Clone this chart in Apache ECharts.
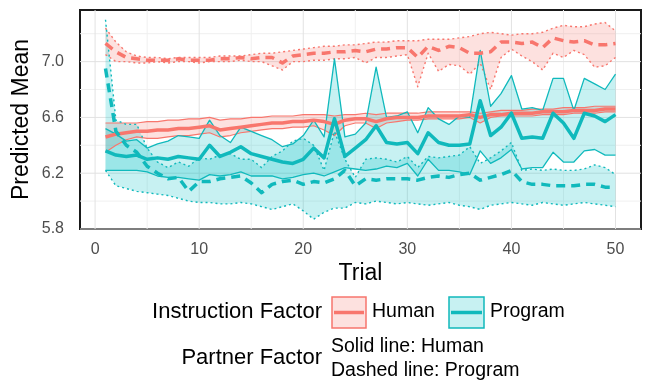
<!DOCTYPE html>
<html>
<head>
<meta charset="utf-8">
<script src="https://cdn.jsdelivr.net/npm/echarts@6/dist/echarts.min.js"></script>
<style>html,body{margin:0;padding:0;background:#fff}#c{width:645px;height:381px}</style>
</head>
<body>
<div id="c"></div>
<script>
// ---- data ----
const trials = [1,2,3,4,5,6,7,8,9,10,11,12,13,14,15,16,17,18,19,20,21,22,23,24,25,26,27,28,29,30,31,32,33,34,35,36,37,38,39,40,41,42,43,44,45,46,47,48,49,50];
const xTicks = [0,10,20,30,40,50];
const xMinor = [5,15,25,35,45];
const yTicks = [5.8,6.2,6.6,7.0];
const yMinor = [6.0,6.4,6.8,7.2];

// Instruction: Human, Partner: Human (solid red)
const hhMean = [6.46,6.48,6.49,6.50,6.50,6.51,6.51,6.52,6.52,6.53,6.54,6.51,6.52,6.53,6.54,6.55,6.56,6.56,6.57,6.57,6.58,6.57,6.55,6.58,6.59,6.59,6.57,6.59,6.60,6.60,6.60,6.61,6.61,6.61,6.61,6.62,6.60,6.62,6.62,6.63,6.63,6.63,6.64,6.64,6.64,6.65,6.65,6.65,6.66,6.66];
const hhHi   = [6.56,6.56,6.56,6.56,6.57,6.57,6.58,6.58,6.59,6.59,6.60,6.58,6.59,6.59,6.60,6.60,6.61,6.61,6.61,6.62,6.62,6.62,6.61,6.62,6.62,6.63,6.62,6.63,6.63,6.63,6.63,6.64,6.64,6.64,6.64,6.64,6.63,6.64,6.65,6.65,6.65,6.66,6.66,6.66,6.67,6.67,6.67,6.68,6.68,6.68];
const hhLo   = [6.35,6.40,6.44,6.46,6.45,6.45,6.46,6.47,6.47,6.48,6.49,6.46,6.47,6.49,6.50,6.51,6.52,6.52,6.53,6.53,6.54,6.51,6.47,6.54,6.56,6.56,6.52,6.56,6.57,6.58,6.58,6.59,6.59,6.59,6.59,6.60,6.56,6.60,6.61,6.61,6.61,6.61,6.62,6.62,6.62,6.63,6.63,6.63,6.64,6.64];

// Instruction: Human, Partner: Program (dashed red)
const hpMean = [7.13,7.07,7.03,7.02,7.01,7.01,7.01,7.02,7.01,7.01,7.01,7.02,7.02,7.03,7.02,7.03,7.03,6.99,7.04,7.05,7.06,7.06,7.07,7.07,7.08,7.07,7.09,7.09,7.10,7.10,7.03,7.11,7.08,7.11,7.10,7.06,7.06,7.07,7.14,7.14,7.13,7.14,7.10,7.17,7.15,7.14,7.15,7.12,7.12,7.13];
const hpHi   = [7.24,7.14,7.07,7.04,7.03,7.03,7.02,7.03,7.03,7.03,7.03,7.04,7.04,7.04,7.05,7.06,7.06,7.07,7.08,7.09,7.10,7.11,7.11,7.12,7.12,7.13,7.14,7.14,7.15,7.15,7.15,7.16,7.16,7.16,7.17,7.18,7.20,7.21,7.20,7.19,7.20,7.20,7.21,7.24,7.26,7.25,7.25,7.27,7.28,7.22];
const hpLo   = [7.05,7.00,7.00,6.99,6.99,7.00,6.99,7.00,7.00,6.99,7.00,7.00,7.00,7.01,7.00,7.00,6.97,6.94,7.00,7.00,7.01,7.01,7.02,7.02,7.03,6.99,7.03,7.03,7.04,7.05,6.82,7.06,6.93,6.98,6.97,6.91,6.99,6.80,7.03,7.09,7.04,7.00,6.94,7.06,7.03,7.08,7.05,6.96,6.97,7.03];

// Instruction: Program, Partner: Human (solid teal)
const phMean = [6.36,6.33,6.32,6.33,6.30,6.31,6.30,6.32,6.31,6.30,6.40,6.32,6.35,6.39,6.34,6.32,6.30,6.28,6.27,6.30,6.38,6.31,6.59,6.32,6.38,6.44,6.54,6.42,6.41,6.42,6.34,6.49,6.42,6.40,6.40,6.41,6.72,6.47,6.53,6.63,6.45,6.46,6.45,6.63,6.56,6.45,6.63,6.61,6.57,6.62];
const phHi   = [6.52,6.48,6.43,6.44,6.38,6.41,6.43,6.47,6.46,6.45,6.58,6.47,6.42,6.53,6.50,6.47,6.44,6.39,6.41,6.47,6.58,6.46,7.02,6.46,6.48,6.56,6.96,6.60,6.61,6.64,6.49,6.67,6.59,6.55,6.61,6.60,7.08,6.68,6.77,6.90,6.66,6.67,6.65,6.88,6.88,6.65,6.88,6.84,6.80,6.91];
const phLo   = [6.22,6.22,6.22,6.22,6.21,6.18,6.17,6.17,6.16,6.15,6.19,6.18,6.19,6.21,6.18,6.18,6.18,6.16,6.17,6.19,6.20,6.18,6.21,6.24,6.23,6.22,6.23,6.25,6.24,6.27,6.18,6.30,6.22,6.22,6.21,6.19,6.36,6.27,6.31,6.37,6.23,6.24,6.24,6.35,6.28,6.28,6.36,6.37,6.33,6.33];

// Instruction: Program, Partner: Program (dashed teal)
const ppMean = [6.95,6.50,6.40,6.35,6.25,6.20,6.16,6.17,6.07,6.14,6.14,6.16,6.17,6.18,6.13,6.06,6.12,6.14,6.15,6.12,6.14,6.13,6.16,6.22,6.11,6.16,6.15,6.16,6.16,6.16,6.15,6.17,6.18,6.17,6.19,6.20,6.15,6.17,6.19,6.22,6.14,6.12,6.12,6.11,6.11,6.11,6.12,6.12,6.10,6.10];
const ppHi   = [7.30,6.58,6.55,6.55,6.38,6.28,6.24,6.28,6.25,6.31,6.30,6.33,6.34,6.30,6.30,6.24,6.32,6.36,6.43,6.45,6.40,6.22,6.50,6.30,6.17,6.30,6.31,6.30,6.28,6.32,6.24,6.32,6.31,6.32,6.33,6.39,6.27,6.31,6.36,6.42,6.22,6.23,6.22,6.23,6.22,6.22,6.23,6.26,6.24,6.19];
const ppLo   = [6.22,6.11,6.09,6.07,6.06,6.05,6.04,6.02,6.00,5.99,5.99,5.98,5.98,5.99,5.98,5.96,5.94,5.96,5.98,5.93,5.87,5.92,5.95,5.95,5.99,5.98,6.00,5.99,5.98,5.99,5.98,5.97,5.98,5.99,5.97,5.96,5.94,5.97,5.98,5.99,5.98,5.97,5.99,5.98,5.97,5.98,5.99,5.98,5.97,5.96];

// ---- styling ----
const RED = '#F8766D', TEAL = '#10b9bc';
const RED_FILL = 'rgba(248,118,109,0.22)', TEAL_FILL = 'rgba(0,191,196,0.22)';
const FONT = '"Liberation Sans", Arial, sans-serif';
const X_MIN = -1.45, X_MAX = 52.45, Y_MIN = 5.8, Y_MAX = 7.37;

function pairs(arr){ return trials.map((t,i)=>[t, arr[i]]); }

function ribbon(lo, hi, fill){
  return {
    type:'custom', silent:true, z:2, clip:true, animation:false,
    data:[[trials[0], lo[0]]],
    renderItem:(params, api)=>{
      const pts=[];
      for(let i=0;i<trials.length;i++) pts.push(api.coord([trials[i], hi[i]]));
      for(let i=trials.length-1;i>=0;i--) pts.push(api.coord([trials[i], lo[i]]));
      return {type:'polygon', shape:{points:pts}, style:{fill:fill}};
    }
  };
}
function line(arr, color, width, type, z){
  return {type:'line', data:pairs(arr), symbol:'none', silent:true, animation:false, z:z,
    lineStyle:{color:color, width:width, type:type, cap:'butt', join:'round'}};
}
const gridSeries = {
  type:'custom', silent:true, z:1, animation:false, data:[[0, Y_MIN]],
  renderItem:(params, api)=>{
    const ch=[];
    const addV=(v,c)=>{const a=api.coord([v,Y_MIN]), b=api.coord([v,Y_MAX]); ch.push({type:'line',shape:{x1:a[0],y1:a[1],x2:b[0],y2:b[1]},style:{stroke:c,lineWidth:1}});};
    const addH=(v,c)=>{const a=api.coord([X_MIN,v]), b=api.coord([X_MAX,v]); ch.push({type:'line',shape:{x1:a[0],y1:a[1],x2:b[0],y2:b[1]},style:{stroke:c,lineWidth:1}});};
    xMinor.forEach(v=>addV(v,'#f0f0f0')); yMinor.forEach(v=>addH(v,'#f0f0f0'));
    xTicks.forEach(v=>addV(v,'#e2e2e2')); yTicks.forEach(v=>addH(v,'#e2e2e2'));
    return {type:'group', children:ch};
  }
};

const DASH = [9,6], DOT = [2,3];

const chart = echarts.init(document.getElementById('c'), null, {renderer:'canvas'});
chart.setOption({
  animation:false,
  grid:{left:80, right:4, top:10, bottom:152, show:true, borderColor:'#1a1a1a', borderWidth:2, backgroundColor:'#fff'},
  xAxis:{type:'value', min:X_MIN, max:X_MAX,
    name:'Trial', nameLocation:'middle', nameGap:33, nameMoveOverlap:false, nameTextStyle:{fontSize:23, color:'#000', fontFamily:FONT, verticalAlign:'top'},
    axisLine:{show:false}, axisTick:{show:false}, splitLine:{show:false},
    axisLabel:{customValues:xTicks, fontSize:16, color:'#4d4d4d', fontFamily:FONT, margin:13,
      formatter:(v)=> xTicks.some(t=>Math.abs(t-v)<1e-6) ? String(Math.round(v)) : ''}},
  yAxis:{type:'value', min:Y_MIN, max:Y_MAX,
    name:'Predicted Mean', nameLocation:'middle', nameGap:47, nameMoveOverlap:false, nameTextStyle:{fontSize:23, color:'#000', fontFamily:FONT},
    axisLine:{show:false}, axisTick:{show:false}, splitLine:{show:false},
    axisLabel:{customValues:yTicks, fontSize:16, color:'#4d4d4d', fontFamily:FONT, margin:16,
      formatter:(v)=> yTicks.some(t=>Math.abs(t-v)<1e-6) ? v.toFixed(1) : ''}},
  series:[
    gridSeries,
    ribbon(hpLo, hpHi, RED_FILL),
    ribbon(hhLo, hhHi, RED_FILL),
    ribbon(ppLo, ppHi, TEAL_FILL),
    ribbon(phLo, phHi, TEAL_FILL),
    line(hpHi, RED, 1.4, DOT, 3), line(hpLo, RED, 1.4, DOT, 3),
    line(hhHi, RED, 1.2, 'solid', 3), line(hhLo, RED, 1.2, 'solid', 3),
    line(ppHi, TEAL, 1.4, DOT, 3), line(ppLo, TEAL, 1.4, DOT, 3),
    line(phHi, TEAL, 1.3, 'solid', 3), line(phLo, TEAL, 1.3, 'solid', 3),
    line(hpMean, RED, 3.5, DASH, 4), line(hhMean, RED, 3.5, 'solid', 4),
    line(ppMean, TEAL, 3.5, DASH, 4), line(phMean, TEAL, 3.5, 'solid', 4)
  ],
  graphic:[
    {type:'text', x:322, y:312, style:{text:'Instruction Factor', font:'22px '+FONT, fill:'#000', align:'right', verticalAlign:'middle'}},
    {type:'rect', x:332, y:297, shape:{width:34, height:31}, style:{fill:RED_FILL, stroke:RED, lineWidth:1.5}},
    {type:'line', shape:{x1:334, y1:312.5, x2:364, y2:312.5}, style:{stroke:RED, lineWidth:3.5}},
    {type:'text', x:372, y:312, style:{text:'Human', font:'19.5px '+FONT, fill:'#000', align:'left', verticalAlign:'middle'}},
    {type:'rect', x:449, y:297, shape:{width:35, height:31}, style:{fill:TEAL_FILL, stroke:TEAL, lineWidth:1.5}},
    {type:'line', shape:{x1:451, y1:312.5, x2:482, y2:312.5}, style:{stroke:TEAL, lineWidth:3.5}},
    {type:'text', x:490, y:312, style:{text:'Program', font:'19.5px '+FONT, fill:'#000', align:'left', verticalAlign:'middle'}},
    {type:'text', x:322, y:358, style:{text:'Partner Factor', font:'22px '+FONT, fill:'#000', align:'right', verticalAlign:'middle'}},
    {type:'text', x:331, y:347, style:{text:'Solid line: Human', font:'19.5px '+FONT, fill:'#000', align:'left', verticalAlign:'middle'}},
    {type:'text', x:331, y:371, style:{text:'Dashed line: Program', font:'19.5px '+FONT, fill:'#000', align:'left', verticalAlign:'middle'}}
  ]
});
</script>
</body>
</html>
